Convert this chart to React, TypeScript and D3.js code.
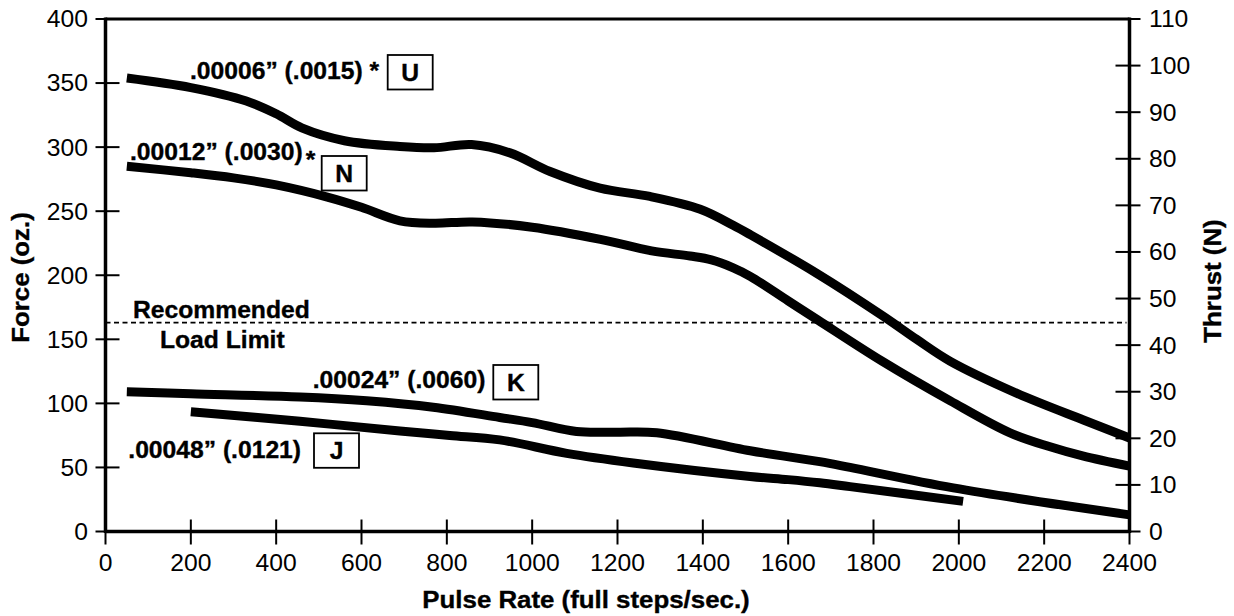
import React from "react";
import * as d3 from "d3";

const W = 1234;
const H = 616;

const xTicks = [0, 200, 400, 600, 800, 1000, 1200, 1400, 1600, 1800, 2000, 2200, 2400];
const yLeftTicks = [0, 50, 100, 150, 200, 250, 300, 350, 400];
const yRightTicks = [0, 10, 20, 30, 40, 50, 60, 70, 80, 90, 100, 110];

const uPulse = [50, 200, 330, 400, 460, 560, 690, 770, 858, 948, 1042, 1159, 1276, 1394, 1471, 1512, 1667, 1823, 1901, 1979, 2135, 2292, 2400];
const uForce = [354, 346.5, 336, 326, 315, 305, 300.5, 299.5, 302, 295.5, 281, 268, 261.5, 251.5, 239, 231.5, 201.5, 168, 150, 133, 108, 87, 73];

const nPulse = [50, 200, 300, 400, 520, 600, 690, 770, 860, 1000, 1160, 1280, 1370, 1420, 1470, 1512, 1600, 1670, 1820, 1980, 2120, 2210, 2290, 2400];
const nForce = [285, 280, 276, 270.5, 261, 253, 242.5, 240.6, 241.6, 237.5, 228, 219, 215, 212, 206, 199, 180, 165, 133, 102, 77, 66.5, 59, 51];

const kPulse = [50, 200, 456, 612, 768, 924, 1000, 1104, 1200, 1292, 1511, 1674, 1745, 1987, 2400];
const kForce = [109, 107.5, 105, 102, 97, 89, 85, 78, 77.5, 77, 63, 54.5, 50, 34, 13];

const jPulse = [200, 456, 690, 807, 924, 1081, 1237, 1511, 1600, 1674, 1745, 2010];
const jForce = [93.5, 86, 78.5, 75, 71.5, 61, 53.5, 43, 40.5, 38, 35, 23.5];

const loadLimit = 163;

const series = [
  { id: "U", pulse: uPulse, force: uForce },
  { id: "N", pulse: nPulse, force: nForce },
  { id: "K", pulse: kPulse, force: kForce },
  { id: "J", pulse: jPulse, force: jForce },
];

const FONT = "'Liberation Sans', Arial, Helvetica, sans-serif";

function SText({ x, y, sx = 1.08, rotate = 0, anchor = "start", size = 23.5, bold = true, children }: any) {
  return (
    <text
      transform={`translate(${x},${y}) rotate(${rotate}) scale(${sx},1)`}
      textAnchor={anchor}
      fontFamily={FONT}
      fontSize={size}
      fontWeight={bold ? "bold" : "normal"}
      fill="#000"
      stroke={bold ? "#000" : "none"}
      strokeWidth={bold ? 0.35 : 0}
    >
      {children}
    </text>
  );
}

function Box({ x, y, label }: { x: number; y: number; label: string }) {
  const w = 45;
  const h = 34.5;
  return (
    <g>
      <rect x={x} y={y} width={w} height={h} fill="#fff" stroke="#000" strokeWidth={1.8} />
      <SText x={x + w / 2} y={y + h / 2 + 8.5} anchor="middle" sx={1.05}>
        {label}
      </SText>
    </g>
  );
}

export default function App() {
  const x = d3.scaleLinear().domain([0, 2400]).range([105.5, 1129.5]);
  const yL = d3.scaleLinear().domain([0, 400]).range([531.5, 19]);
  const yR = d3.scaleLinear().domain([0, 110]).range([531.5, 19]);

  const line = d3
    .line<[number, number]>()
    .x((d) => x(d[0]))
    .y((d) => yL(d[1]))
    .curve(d3.curveCatmullRom.alpha(0.5));

  const x0 = x(0);
  const x1 = x(2400);
  const yTop = yL(400);
  const yBot = yL(0);

  return (
    <svg width={W} height={H} style={{ position: "absolute", left: 0, top: 0, background: "#fff" }}>
      <rect x={0} y={0} width={W} height={H} fill="#fff" />

      {/* dashed load limit */}
      <line
        x1={x0}
        x2={x1 - 3}
        y1={yL(loadLimit)}
        y2={yL(loadLimit)}
        stroke="#000"
        strokeWidth={1.8}
        strokeDasharray="5,3.5"
      />

      {/* curves */}
      {series.map((s) => (
        <path
          key={s.id}
          d={line(s.pulse.map((p, i) => [p, s.force[i]] as [number, number])) || ""}
          fill="none"
          stroke="#000"
          strokeWidth={9}
          strokeLinecap="butt"
          strokeLinejoin="round"
        />
      ))}

      {/* frame */}
      <line x1={x0} x2={x1} y1={yTop} y2={yTop} stroke="#000" strokeWidth={3} />
      <line x1={x0} x2={x1} y1={yBot} y2={yBot} stroke="#000" strokeWidth={3.5} />
      <line x1={x0} x2={x0} y1={yTop - 1.5} y2={yBot + 1.5} stroke="#000" strokeWidth={3.5} />
      <line x1={x1} x2={x1} y1={yTop - 1.5} y2={yBot + 1.5} stroke="#000" strokeWidth={3.5} />

      {/* left ticks */}
      {yLeftTicks.map((t) => (
        <g key={"l" + t}>
          <line x1={x0 - 10} x2={x0 + 14} y1={yL(t)} y2={yL(t)} stroke="#000" strokeWidth={2} />
          <SText x={88} y={yL(t) + 8.4} anchor="end" bold={false} sx={1.05}>
            {t}
          </SText>
        </g>
      ))}

      {/* right ticks */}
      {yRightTicks.map((t) => (
        <g key={"r" + t}>
          <line x1={x1 - 14} x2={x1 + 11} y1={yR(t)} y2={yR(t)} stroke="#000" strokeWidth={2} />
          <SText x={1149} y={yR(t) + 8.4} anchor="start" bold={false} sx={1.05}>
            {t}
          </SText>
        </g>
      ))}

      {/* bottom ticks */}
      {xTicks.map((t) => (
        <g key={"b" + t}>
          <line x1={x(t)} x2={x(t)} y1={yBot - 12} y2={yBot + 13} stroke="#000" strokeWidth={2} />
          <SText x={x(t)} y={571} anchor="middle" bold={false} sx={1.05}>
            {t}
          </SText>
        </g>
      ))}

      {/* axis titles */}
      <SText x={586} y={607.5} anchor="middle" sx={1.1}>
        Pulse Rate (full steps/sec.)
      </SText>
      <SText x={28.5} y={277.5} rotate={-90} anchor="middle" sx={1.1}>
        Force (oz.)
      </SText>
      <SText x={1220.5} y={281} rotate={-90} anchor="middle" sx={1.1}>
        Thrust (N)
      </SText>

      {/* recommended load limit */}
      <SText x={133} y={318.3} sx={1.05}>Recommended</SText>
      <SText x={160} y={348.3} sx={1.05}>Load Limit</SText>

      {/* series labels */}
      <SText x={190} y={79.3} sx={1.05}>
        .00006” (.0015) *
      </SText>
      <Box x={387.7} y={55} label="U" />

      <SText x={130} y={160} sx={1.05}>
        .00012” (.0030)
        <tspan dx={3} dy={8}>*</tspan>
      </SText>
      <Box x={321.7} y={156} label="N" />

      <SText x={312.7} y={388.3} sx={1.05}>
        .00024” (.0060)
      </SText>
      <Box x={493.3} y={365} label="K" />

      <SText x={128.3} y={458.3} sx={1.05}>
        .00048” (.0121)
      </SText>
      <Box x={314} y={433.3} label="J" />
    </svg>
  );
}
